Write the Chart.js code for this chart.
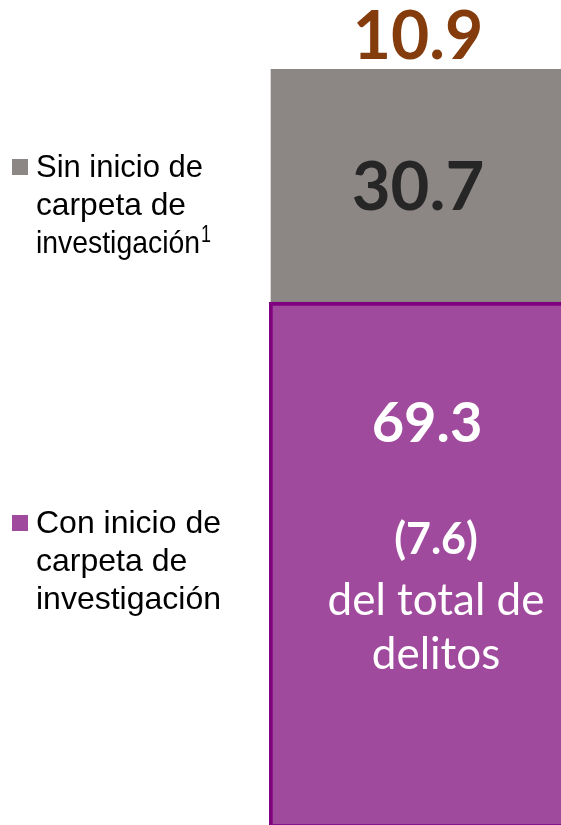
<!DOCTYPE html>
<html>
<head>
<meta charset="utf-8">
<script src="https://cdn.jsdelivr.net/npm/chart.js@4.4.0/dist/chart.umd.min.js"></script>
<style>
  html, body { margin: 0; padding: 0; background: #fff; }
  #wrap { width: 561px; height: 825px; overflow: hidden; position: relative; }
  #wrap canvas { position: absolute; left: 0; top: 0; }
</style>
</head>
<body>
<div id="wrap"><canvas id="chart" width="620" height="840"></canvas></div>
<script>
// datos
const categories = ['Delitos'];
const conCarpeta = [69.3];
const sinCarpeta = [30.7];
const cifraTotal = ['10.9'];
const subTotal = ['(7.6)'];
const subTexto = ['del total de', 'delitos'];
const legendSin = ['Sin inicio de', 'carpeta de', 'investigación'];
const legendCon = ['Con inicio de', 'carpeta de', 'investigación'];

const colorCon = '#A04A9E';
const colorSin = '#8C8685';

// etiquetas y leyenda dibujadas a mano
const labelsPlugin = {
    id: 'labels',
    afterDatasetsDraw(chart) {
        const ctx = chart.ctx;
        const area = chart.chartArea;
        const cx = (area.left + 2 + 561) / 2;
        const barCon = chart.getDatasetMeta(0).data[0];
        const barSin = chart.getDatasetMeta(1).data[0];

        ctx.save();
        ctx.textAlign = 'center';
        ctx.textBaseline = 'middle';

        ctx.fillStyle = '#843C0C';
        ctx.font = 'bold 66px Lato';
        ctx.fillText(cifraTotal[0], cx + 2, barSin.y - 31);

        ctx.fillStyle = '#262626';
        ctx.font = 'bold 67px Lato';
        ctx.fillText(sinCarpeta[0].toFixed(1), cx + 2, (barSin.y + barSin.base) / 2 + 3);

        const top = barCon.y;
        ctx.fillStyle = '#fff';
        ctx.font = 'bold 56px Lato';
        ctx.fillText(conCarpeta[0].toFixed(1), cx + 11, top + 122);
        ctx.font = 'bold 43px Lato';
        ctx.fillText(subTotal[0], cx + 20, top + 238);
        ctx.font = '44px Lato';
        ctx.fillText(subTexto[0], cx + 20, top + 299);
        ctx.fillText(subTexto[1], cx + 20, top + 353);

        // leyenda
        ctx.textAlign = 'left';
        ctx.textBaseline = 'alphabetic';
        ctx.font = '32px "Liberation Sans"';
        function drawLegend(lines, color, y0, widths) {
            ctx.fillStyle = color;
            ctx.fillRect(12, y0 - 18, 16, 16);
            ctx.fillStyle = '#000';
            lines.forEach((t, i) => {
                if (widths) ctx.fillText(t, 36, y0 + i * 38, widths[i]);
                else ctx.fillText(t, 36, y0 + i * 38);
            });
        }
        drawLegend(legendSin, colorSin, 177, [167, 150, 164]);
        ctx.font = '24px "Liberation Sans"';
        ctx.fillText('1', 201, 177 + 2 * 38 - 11, 10);
        ctx.font = '32px "Liberation Sans"';
        drawLegend(legendCon, colorCon, 533);
        ctx.restore();
    }
};

new Chart(document.getElementById('chart'), {
    type: 'bar',
    data: {
        labels: categories,
        datasets: [
            {
                label: 'Con inicio de carpeta de investigación',
                data: conCarpeta,
                backgroundColor: colorCon,
                borderColor: '#800080',
                borderWidth: 4,
                borderSkipped: false,
                barPercentage: 1,
                categoryPercentage: 1
            },
            {
                label: 'Sin inicio de carpeta de investigación',
                data: sinCarpeta,
                backgroundColor: colorSin,
                borderColor: '#ffffff',
                borderWidth: { left: 2, top: 0, right: 0, bottom: 0 },
                borderSkipped: false,
                barPercentage: 1,
                categoryPercentage: 1
            }
        ]
    },
    options: {
        responsive: false,
        animation: false,
        layout: { padding: { left: 269, top: 69, right: 0, bottom: 12 } },
        plugins: {
            legend: { display: false },
            tooltip: { enabled: false }
        },
        scales: {
            x: { stacked: true, display: false },
            y: { stacked: true, display: false, min: 0, max: 100 }
        }
    },
    plugins: [labelsPlugin]
});
</script>
</body>
</html>
